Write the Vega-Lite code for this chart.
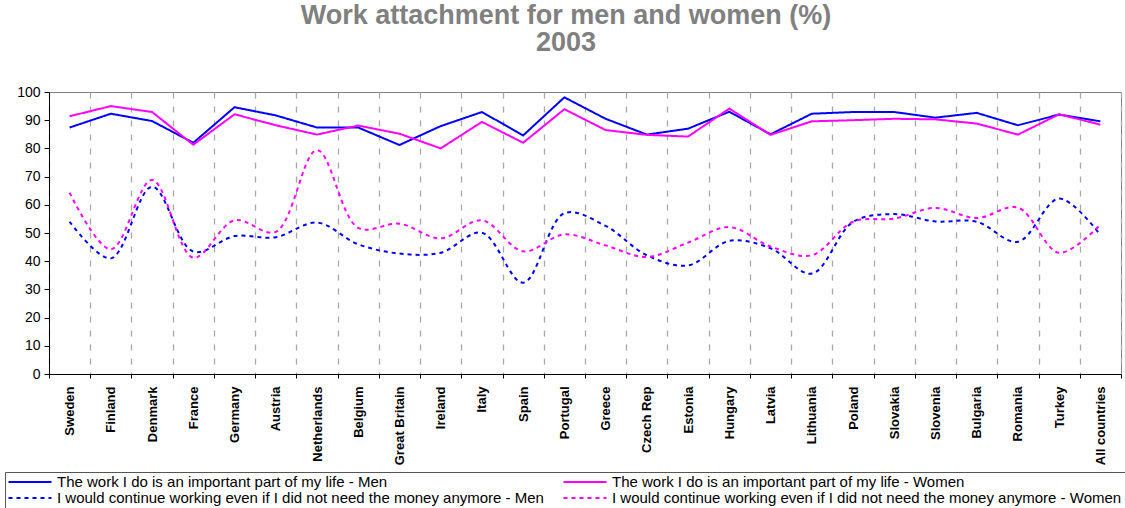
{
  "$schema": "https://vega.github.io/schema/vega-lite/v6.json",
  "autosize": {"type": "none"},
  "padding": {"left": 49, "top": 92, "right": 4, "bottom": 134},
  "width": 1072,
  "height": 282,
  "title": {
    "text": ["Work attachment for men and women (%)", "2003"],
    "font": "Liberation Sans",
    "fontSize": 27,
    "fontWeight": "bold",
    "color": "#808080",
    "anchor": "middle",
    "dx": -19,
    "lineHeight": 27,
    "offset": 28
  },
  "data": {
    "values": [
      {"country": "Sweden", "imp_m": 87.4, "imp_w": 91.4, "cont_m": 54.0, "cont_w": 64.3},
      {"country": "Finland", "imp_m": 92.3, "imp_w": 95.0, "cont_m": 41.0, "cont_w": 44.2},
      {"country": "Denmark", "imp_m": 89.7, "imp_w": 92.9, "cont_m": 66.4, "cont_w": 68.8},
      {"country": "France", "imp_m": 82.0, "imp_w": 81.3, "cont_m": 43.4, "cont_w": 41.3},
      {"country": "Germany", "imp_m": 94.6, "imp_w": 92.1, "cont_m": 48.9, "cont_w": 54.5},
      {"country": "Austria", "imp_m": 91.7, "imp_w": 88.2, "cont_m": 48.5, "cont_w": 50.4},
      {"country": "Netherlands", "imp_m": 87.4, "imp_w": 84.9, "cont_m": 53.7, "cont_w": 79.4},
      {"country": "Belgium", "imp_m": 87.4, "imp_w": 88.1, "cont_m": 46.0, "cont_w": 51.8},
      {"country": "Great Britain", "imp_m": 81.2, "imp_w": 85.2, "cont_m": 42.7, "cont_w": 53.3},
      {"country": "Ireland", "imp_m": 87.9, "imp_w": 80.0, "cont_m": 43.0, "cont_w": 48.1},
      {"country": "Italy", "imp_m": 92.9, "imp_w": 89.4, "cont_m": 50.1, "cont_w": 54.5},
      {"country": "Spain", "imp_m": 84.6, "imp_w": 82.0, "cont_m": 32.4, "cont_w": 43.5},
      {"country": "Portugal", "imp_m": 98.1, "imp_w": 93.9, "cont_m": 57.0, "cont_w": 49.5},
      {"country": "Greece", "imp_m": 90.5, "imp_w": 86.5, "cont_m": 52.5, "cont_w": 45.6},
      {"country": "Czech Rep", "imp_m": 84.9, "imp_w": 84.8, "cont_m": 42.1, "cont_w": 41.5},
      {"country": "Estonia", "imp_m": 87.0, "imp_w": 84.2, "cont_m": 38.5, "cont_w": 46.6},
      {"country": "Hungary", "imp_m": 93.0, "imp_w": 94.1, "cont_m": 47.2, "cont_w": 52.1},
      {"country": "Latvia", "imp_m": 85.0, "imp_w": 84.8, "cont_m": 44.6, "cont_w": 45.2},
      {"country": "Lithuania", "imp_m": 92.3, "imp_w": 89.6, "cont_m": 35.6, "cont_w": 42.1},
      {"country": "Poland", "imp_m": 92.9, "imp_w": 90.0, "cont_m": 53.9, "cont_w": 54.0},
      {"country": "Slovakia", "imp_m": 92.9, "imp_w": 90.5, "cont_m": 56.7, "cont_w": 55.1},
      {"country": "Slovenia", "imp_m": 90.9, "imp_w": 90.3, "cont_m": 54.1, "cont_w": 58.9},
      {"country": "Bulgaria", "imp_m": 92.6, "imp_w": 88.8, "cont_m": 54.0, "cont_w": 55.3},
      {"country": "Romania", "imp_m": 88.2, "imp_w": 84.9, "cont_m": 46.9, "cont_w": 59.0},
      {"country": "Turkey", "imp_m": 92.0, "imp_w": 92.1, "cont_m": 62.2, "cont_w": 43.0},
      {"country": "All countries", "imp_m": 89.6, "imp_w": 88.4, "cont_m": 49.3, "cont_w": 53.0}
    ]
  },
  "transform": [
    {"fold": ["imp_m", "imp_w", "cont_m", "cont_w"], "as": ["series", "pct"]}
  ],
  "encoding": {
    "x": {
      "field": "country",
      "type": "nominal",
      "sort": null,
      "bandPosition": 0.5,
      "scale": {"type": "band", "paddingInner": 0, "paddingOuter": 0},
      "axis": {
        "title": null,
        "labelAngle": -90,
        "labelAlign": "right",
        "labelBaseline": "middle",
        "labelFont": "Liberation Sans",
        "labelFontSize": 13,
        "labelFontWeight": "bold",
        "labelColor": "#000000",
        "labelPadding": 8,
        "labelLimit": 0,
        "tickBand": "extent",
        "ticks": true,
        "tickSize": 4,
        "tickColor": "#000000",
        "domainColor": "#000000",
        "grid": true,
        "gridDash": [6, 8],
        "gridColor": "#a8a8a8",
        "gridWidth": 1.3
      }
    },
    "y": {
      "field": "pct",
      "type": "quantitative",
      "scale": {"domain": [0, 100], "nice": false},
      "axis": {
        "title": null,
        "values": [0, 10, 20, 30, 40, 50, 60, 70, 80, 90, 100],
        "grid": false,
        "labelFont": "Liberation Sans",
        "labelFontSize": 14,
        "labelColor": "#000000",
        "labelPadding": 4,
        "tickSize": 5,
        "tickColor": "#000000",
        "domainColor": "#000000"
      }
    },
    "color": {
      "field": "series",
      "type": "nominal",
      "scale": {
        "domain": ["imp_m", "imp_w", "cont_m", "cont_w"],
        "range": ["#0000ff", "#ff00ff", "#0000ff", "#ff00ff"]
      },
      "legend": {
        "title": null,
        "orient": "none",
        "direction": "horizontal",
        "legendX": -44,
        "legendY": 380,
        "columns": 2,
        "columnPadding": 13,
        "rowPadding": 0,
        "padding": 2,
        "clipHeight": 16,
        "strokeColor": "#555555",
        "symbolType": "stroke",
        "symbolSize": 1850,
        "symbolStrokeWidth": 2,
        "labelFont": "Liberation Sans",
        "labelFontSize": 15,
        "labelColor": "#000000",
        "labelOffset": 4,
        "labelLimit": 0,
        "labelExpr": "{'imp_m': 'The work I do is an important part of my life -  Men', 'imp_w': 'The work I do is an important part of my life -  Women', 'cont_m': 'I would continue working even if I did not need the money anymore -  Men', 'cont_w': 'I would continue working even if I did not need the money anymore -  Women'}[datum.value]"
      }
    },
    "strokeDash": {
      "field": "series",
      "type": "nominal",
      "scale": {
        "domain": ["imp_m", "imp_w", "cont_m", "cont_w"],
        "range": [[1, 0], [1, 0], [4, 4], [4, 4]]
      },
      "legend": {
        "title": null,
        "orient": "none",
        "direction": "horizontal",
        "legendX": -44,
        "legendY": 380,
        "columns": 2,
        "columnPadding": 13,
        "rowPadding": 0,
        "padding": 2,
        "clipHeight": 16,
        "strokeColor": "#555555",
        "symbolType": "stroke",
        "symbolSize": 1850,
        "symbolStrokeWidth": 2,
        "labelFont": "Liberation Sans",
        "labelFontSize": 15,
        "labelColor": "#000000",
        "labelOffset": 4,
        "labelLimit": 0,
        "labelExpr": "{'imp_m': 'The work I do is an important part of my life -  Men', 'imp_w': 'The work I do is an important part of my life -  Women', 'cont_m': 'I would continue working even if I did not need the money anymore -  Men', 'cont_w': 'I would continue working even if I did not need the money anymore -  Women'}[datum.value]"
      }
    }
  },
  "layer": [
    {
      "transform": [{"filter": "indexof(datum.series, 'imp') == 0"}],
      "mark": {"type": "line", "strokeWidth": 2, "interpolate": "linear"}
    },
    {
      "transform": [{"filter": "indexof(datum.series, 'cont') == 0"}],
      "mark": {"type": "line", "strokeWidth": 2, "interpolate": "catmull-rom"}
    }
  ],
  "config": {
    "view": {"stroke": "#808080", "strokeWidth": 1},
    "background": "#ffffff"
  }
}
